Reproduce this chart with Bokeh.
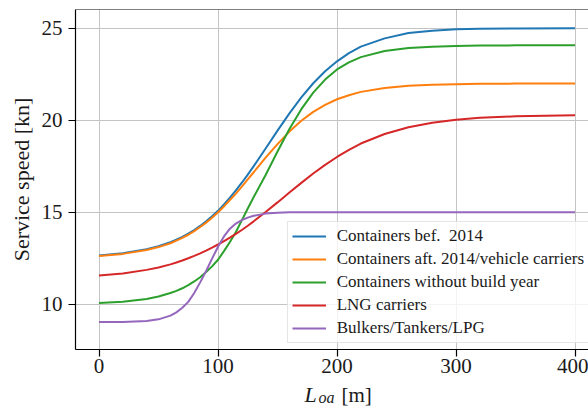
from bokeh.plotting import figure
from bokeh.layouts import column
from bokeh.models import Range1d, FixedTicker, Label, Span, Legend, LegendItem
from bokeh.embed import file_html
from bokeh.resources import INLINE

# Length over all [m]
loa = [0, 20, 40, 50, 60, 65, 70, 75, 80, 85, 90, 95, 100, 105, 110, 115, 120, 125,
       130, 140, 150, 160, 170, 180, 190, 200, 210, 220, 240, 260, 280, 300, 320, 350, 400]

# Service speed [kn] per ship type
containers_bef_2014 = [12.64, 12.76, 12.98, 13.15, 13.37, 13.50, 13.66, 13.83, 14.03, 14.25,
                       14.50, 14.78, 15.07, 15.42, 15.79, 16.18, 16.60, 17.04, 17.50, 18.46,
                       19.43, 20.37, 21.24, 22.01, 22.66, 23.20, 23.65, 24.00, 24.45, 24.74,
                       24.87, 24.94, 24.97, 24.99, 25.00]
containers_aft_2014 = [12.62, 12.73, 12.94, 13.10, 13.31, 13.45, 13.60, 13.77, 13.97, 14.19,
                       14.43, 14.70, 14.99, 15.31, 15.66, 16.01, 16.39, 16.78, 17.17, 17.96,
                       18.70, 19.38, 19.97, 20.45, 20.83, 21.14, 21.36, 21.54, 21.75, 21.87,
                       21.93, 21.96, 21.98, 21.99, 22.00]
containers_no_year = [10.06, 10.13, 10.28, 10.41, 10.60, 10.72, 10.86, 11.03, 11.23, 11.46,
                      11.74, 12.05, 12.41, 12.88, 13.38, 13.92, 14.55, 15.20, 15.82, 17.02,
                      18.30, 19.52, 20.60, 21.50, 22.21, 22.76, 23.14, 23.43, 23.76, 23.93,
                      24.00, 24.04, 24.06, 24.07, 24.07]
lng_carriers = [11.55, 11.66, 11.86, 11.99, 12.16, 12.26, 12.37, 12.49, 12.62, 12.76,
                12.91, 13.07, 13.24, 13.42, 13.61, 13.82, 14.03, 14.26, 14.50, 15.01,
                15.53, 16.07, 16.59, 17.10, 17.57, 18.00, 18.39, 18.73, 19.25, 19.62,
                19.86, 20.02, 20.13, 20.21, 20.27]
bulkers_tankers_lpg = [9.02, 9.03, 9.08, 9.17, 9.37, 9.55, 9.80, 10.12, 10.60, 11.18,
                       11.80, 12.47, 13.12, 13.68, 14.10, 14.38, 14.57, 14.70, 14.80, 14.92,
                       14.97, 14.99, 15.00, 15.00, 15.00, 15.00, 15.00, 15.00, 15.00, 15.00,
                       15.00, 15.00, 15.00, 15.00, 15.00]

series_names = ["Containers bef.  2014",
                "Containers aft. 2014/vehicle carriers",
                "Containers without build year",
                "LNG carriers",
                "Bulkers/Tankers/LPG"]
series_values = [containers_bef_2014, containers_aft_2014, containers_no_year,
                 lng_carriers, bulkers_tankers_lpg]
series_colors = ["#1f77b4", "#ff7f0e", "#2ca02c", "#d62728", "#9467bd"]

x_ticks = [0, 100, 200, 300, 400]
y_ticks = [10, 15, 20, 25]

X0, X1 = -19.75, 411.3
Y0, Y1 = 7.53, 26.02

SERIF = "Liberation Serif"
TEXT = "#1a1a1a"

p = figure(width=588, height=383, output_backend="svg", toolbar_location=None,
           x_range=Range1d(X0, X1), y_range=Range1d(Y0, Y1),
           min_border_left=75, min_border_right=0, min_border_top=9, min_border_bottom=34)
p.outline_line_color = None
p.background_fill_color = "white"
p.border_fill_color = "white"

for ax in (p.xaxis[0], p.yaxis[0]):
    ax.axis_line_color = "black"
    ax.axis_line_width = 1.2
    ax.major_tick_line_color = "black"
    ax.major_tick_line_width = 1.2
    ax.major_tick_out = 7
    ax.major_tick_in = 0
    ax.minor_tick_out = 0
    ax.minor_tick_in = 0
    ax.major_label_text_font = SERIF
    ax.major_label_text_font_size = "21px"
    ax.major_label_text_color = TEXT

p.xaxis.ticker = FixedTicker(ticks=x_ticks)
p.yaxis.ticker = FixedTicker(ticks=y_ticks)
p.xaxis.major_label_standoff = 2
p.yaxis.major_label_standoff = 6

p.yaxis.axis_label = "Service speed [kn]"
p.yaxis.axis_label_text_font = SERIF
p.yaxis.axis_label_text_font_size = "22px"
p.yaxis.axis_label_text_font_style = "normal"
p.yaxis.axis_label_text_color = TEXT
p.yaxis.axis_label_standoff = 5

p.xgrid.grid_line_color = "#c4c4c4"
p.ygrid.grid_line_color = "#c4c4c4"
p.xgrid.grid_line_width = 1
p.ygrid.grid_line_width = 1

# top spine
p.add_layout(Span(location=Y1, dimension="width", line_color="black", line_width=1.2))

items = []
for name, vals, col in zip(series_names, series_values, series_colors):
    r = p.line(loa, vals, line_color=col, line_width=2)
    items.append(LegendItem(label=name, renderers=[r]))

legend = Legend(items=items, location=(211.7, 6.5))
legend.label_text_font = SERIF
legend.label_text_font_size = "17px"
legend.label_text_color = TEXT
legend.glyph_width = 34
legend.glyph_height = 20
legend.label_height = 20
legend.label_standoff = 11
legend.spacing = 3
legend.padding = 4
legend.margin = 0
legend.border_line_color = "#cccccc"
legend.border_line_width = 1
legend.background_fill_color = "white"
legend.background_fill_alpha = 0.8
p.add_layout(legend)

# strip below holding the x-axis title  L_oa [m]; its frame is aligned with the main frame
strip_h = 409 - 383
q = figure(width=588, height=strip_h, output_backend="svg", toolbar_location=None,
           x_range=Range1d(X0, X1), y_range=Range1d(0, strip_h),
           x_axis_location=None, y_axis_location=None,
           min_border_left=75, min_border_right=0,
           min_border_top=0, min_border_bottom=0)
q.grid.visible = False
q.outline_line_color = None
q.background_fill_color = "white"
q.border_fill_color = "white"


def px_to_x(px):
    return X0 + (px - 75) * (X1 - X0) / 513.0


SHIFT = 6  # measured offset of the strip frame
q.add_layout(Label(x=px_to_x(304), y=409 - 400 + SHIFT, text="L", text_font=SERIF,
                   text_font_size="22px", text_font_style="italic", text_color=TEXT,
                   text_baseline="alphabetic", text_align="left"))
q.add_layout(Label(x=px_to_x(318), y=409 - 403 + SHIFT, text="oa", text_font=SERIF,
                   text_font_size="16px", text_font_style="italic", text_color=TEXT,
                   text_baseline="alphabetic", text_align="left"))
q.add_layout(Label(x=px_to_x(341), y=409 - 400 + SHIFT, text="[m]", text_font=SERIF,
                   text_font_size="21px", text_color=TEXT,
                   text_baseline="alphabetic", text_align="left"))

layout = column(p, q, spacing=0)
open("out.html", "w").write(file_html(layout, INLINE))
